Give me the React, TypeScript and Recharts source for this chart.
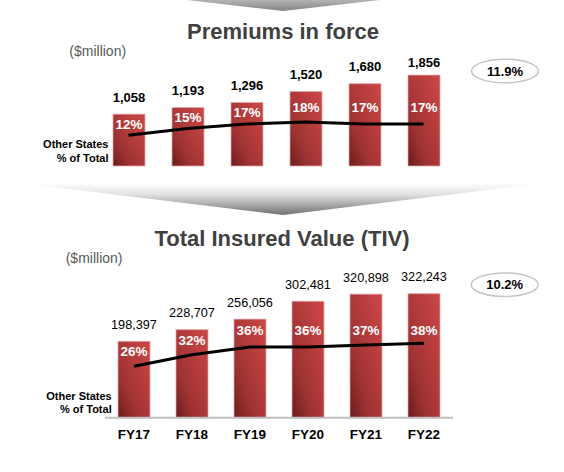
import React from 'react';
import { ComposedChart, Bar, Line, XAxis, YAxis } from 'recharts';

// ---------- data ----------
const categories = ['FY17', 'FY18', 'FY19', 'FY20', 'FY21', 'FY22'];
const premiumsInForce = [1058, 1193, 1296, 1520, 1680, 1856];
const premiumsOtherStatesPct = [12, 15, 17, 18, 17, 17];
const totalInsuredValue = [198397, 228707, 256056, 302481, 320898, 322243];
const tivOtherStatesPct = [26, 32, 36, 36, 37, 38];
const premiumsCagr = '11.9%';
const tivCagr = '10.2%';
const premiumsTitle = 'Premiums in force';
const tivTitle = 'Total Insured Value (TIV)';
const unitLabel = '($million)';
const lineLabel = ['Other States', '% of Total'];

const topData = categories.map((cat, i) => ({
  cat,
  value: premiumsInForce[i],
  pct: premiumsOtherStatesPct[i],
}));
const bottomData = categories.map((cat, i) => ({
  cat,
  value: totalInsuredValue[i],
  pct: tivOtherStatesPct[i],
}));

const FONT = "'Liberation Sans', Arial, Helvetica, sans-serif";

type ShapeOpts = {
  valueSize: number;
  valueWeight: string;
  valueMinCenter: number;
  pctOffset: number;
};

function makeBarShape(opts: ShapeOpts) {
  return (props: any) => {
    const { x, y, width, height, payload } = props;
    if (x == null || y == null || !height) return <g />;
    const cx = x + width / 2;
    const bottom = y + height;
    const valueCenter = Math.max(y - 17, opts.valueMinCenter);
    const pctCenter = Math.max(y + 10, bottom - opts.pctOffset);
    const pctSize = 13.5;
    return (
      <g>
        <rect
          x={x}
          y={y}
          width={width}
          height={height}
          fill="url(#barGrad)"
          stroke="#e2aaaa"
          strokeOpacity={0.75}
          strokeWidth={1}
        />
        <text
          x={cx}
          y={valueCenter + 0.36 * opts.valueSize}
          textAnchor="middle"
          fontFamily={FONT}
          fontSize={opts.valueSize}
          fontWeight={opts.valueWeight}
          fill="#000"
        >
          {Number(payload.value).toLocaleString('en-US')}
        </text>
        <text
          x={cx}
          y={pctCenter + 0.36 * pctSize}
          textAnchor="middle"
          fontFamily={FONT}
          fontSize={pctSize}
          fontWeight="bold"
          fill="#fff"
        >
          {payload.pct}%
        </text>
      </g>
    );
  };
}

const topShape = makeBarShape({ valueSize: 13, valueWeight: 'bold', valueMinCenter: 62.3, pctOffset: 59 });
const bottomShape = makeBarShape({ valueSize: 12.7, valueWeight: 'normal', valueMinCenter: -1000, pctOffset: 88 });

const FyTick = (props: any) => {
  const { x, y, payload } = props;
  return (
    <text
      x={x}
      y={y + 21.5}
      textAnchor="middle"
      fontFamily={FONT}
      fontSize={13.5}
      fontWeight="bold"
      fill="#000"
    >
      {payload.value}
    </text>
  );
};

const Pill = ({ cx, cy, text }: { cx: number; cy: number; text: string }) => (
  <g>
    <ellipse cx={cx} cy={cy} rx={33.5} ry={11.8} fill="#fff" stroke="#c4c4c4" strokeWidth={1.5} />
    <text x={cx} y={cy + 4.7} textAnchor="middle" fontFamily={FONT} fontSize={13} fontWeight="bold" fill="#000">
      {text}
    </text>
  </g>
);

const SideLabel = ({ x, y1, y2 }: { x: number; y1: number; y2: number }) => (
  <g fontFamily={FONT} fontSize={11} fontWeight="bold" fill="#000" textAnchor="end">
    <text x={x} y={y1}>{lineLabel[0]}</text>
    <text x={x} y={y2}>{lineLabel[1]}</text>
  </g>
);

export default function App() {
  return (
    <div style={{ position: 'absolute', left: 0, top: 0, width: 564, height: 472, background: '#fff', overflow: 'hidden' }}>
      <svg width={564} height={472} style={{ position: 'absolute', left: 0, top: 0 }}>
        <defs>
          <linearGradient id="barGrad" x1="0" y1="1" x2="1" y2="0">
            <stop offset="0%" stopColor="#6a1c1c" />
            <stop offset="30%" stopColor="#9e3232" />
            <stop offset="65%" stopColor="#b73d3d" />
            <stop offset="100%" stopColor="#cc4747" />
          </linearGradient>
          <linearGradient id="topBanner" x1="0" y1="0" x2="0" y2="1">
            <stop offset="0%" stopColor="#b3b3b3" />
            <stop offset="100%" stopColor="#858585" />
          </linearGradient>
          <linearGradient id="midBanner" x1="0" y1="0" x2="0" y2="1">
            <stop offset="0%" stopColor="#ffffff" />
            <stop offset="35%" stopColor="#e2e2e2" />
            <stop offset="100%" stopColor="#707070" />
          </linearGradient>
        </defs>
        <polygon points="186.7,0 380,0 283.3,11" fill="url(#topBanner)" />
        <polygon points="20,183 544,183 283,215" fill="url(#midBanner)" />

        <text x={283} y={39} textAnchor="middle" fontFamily={FONT} fontSize={22} fontWeight="bold" fill="#404040">
          {premiumsTitle}
        </text>
        <text x={282} y={245.5} textAnchor="middle" fontFamily={FONT} fontSize={22} fontWeight="bold" fill="#404040">
          {tivTitle}
        </text>
        <text x={69.3} y={56.3} fontFamily={FONT} fontSize={14} fill="#595959">{unitLabel}</text>
        <text x={65.7} y={262.9} fontFamily={FONT} fontSize={14} fill="#595959">{unitLabel}</text>

        <Pill cx={505} cy={71} text={premiumsCagr} />
        <Pill cx={504.7} cy={284.7} text={tivCagr} />

        <SideLabel x={108.5} y1={148.2} y2={161.6} />
        <SideLabel x={111.7} y1={399.6} y2={412.9} />
      </svg>

      <div style={{ position: 'absolute', left: 0, top: 0 }}>
        <ComposedChart width={564} height={200} data={topData} margin={{ top: 68, right: 111, bottom: 34, left: 99 }}>
          <XAxis dataKey="cat" hide />
          <YAxis yAxisId="v" hide domain={[0, 2000]} />
          <YAxis yAxisId="p" hide domain={[-1.9, 42.3]} allowDataOverflow />
          <Bar yAxisId="v" dataKey="value" barSize={32} shape={topShape} isAnimationActive={false} />
          <Line
            yAxisId="p"
            type="linear"
            dataKey="pct"
            stroke="#000"
            strokeWidth={3}
            dot={false}
            activeDot={false}
            isAnimationActive={false}
          />
        </ComposedChart>
      </div>

      <div style={{ position: 'absolute', left: 0, top: 200 }}>
        <ComposedChart width={564} height={272} data={bottomData} margin={{ top: 79.1, right: 111, bottom: 24.3, left: 105 }}>
          <XAxis
            dataKey="cat"
            height={30}
            interval={0}
            axisLine={{ stroke: '#bfbfbf', strokeWidth: 2 }}
            tickLine={false}
            tickSize={0}
            tickMargin={0}
            tick={<FyTick />}
          />
          <YAxis yAxisId="v" hide domain={[0, 360000]} />
          <YAxis yAxisId="p" hide domain={[-0.74, 71.3]} allowDataOverflow />
          <Bar yAxisId="v" dataKey="value" barSize={32} shape={bottomShape} isAnimationActive={false} />
          <Line
            yAxisId="p"
            type="linear"
            dataKey="pct"
            stroke="#000"
            strokeWidth={3}
            dot={false}
            activeDot={false}
            isAnimationActive={false}
          />
        </ComposedChart>
      </div>
    </div>
  );
}
